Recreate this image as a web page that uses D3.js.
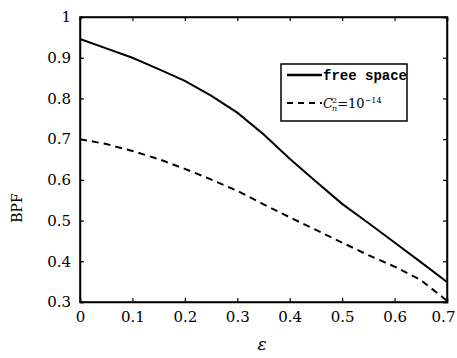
<!DOCTYPE html>
<html>
<head>
<meta charset="utf-8">
<script src="https://cdn.jsdelivr.net/npm/d3@7"></script>
<style>
  body { margin: 0; background: #fff; }
  text { font-family: "DejaVu Serif", serif; fill: #000; }
</style>
</head>
<body>
<script>
// values
var eps = [0, 0.05, 0.1, 0.15, 0.2, 0.25, 0.3, 0.35, 0.4, 0.45, 0.5, 0.55, 0.6, 0.65, 0.7];
var freeSpace = [0.946, 0.923, 0.900, 0.872, 0.843, 0.807, 0.765, 0.712, 0.652, 0.596, 0.541, 0.494, 0.446, 0.398, 0.349];
var turbulent = [0.700, 0.688, 0.671, 0.651, 0.627, 0.601, 0.573, 0.540, 0.508, 0.477, 0.446, 0.415, 0.387, 0.354, 0.303];
var xTicks = [0, 0.1, 0.2, 0.3, 0.4, 0.5, 0.6, 0.7];
var yTicks = [0.3, 0.4, 0.5, 0.6, 0.7, 0.8, 0.9, 1];

var svg_width = 457, svg_height = 358;
var plot_left = 80, plot_right = 447, plot_top = 17, plot_bottom = 302;

var svg = d3.select('body').append('svg')
  .attr('width', svg_width)
  .attr('height', svg_height);

var x = d3.scaleLinear().domain([0, 0.7]).range([plot_left, plot_right]);
var y = d3.scaleLinear().domain([0.3, 1]).range([plot_bottom, plot_top]);

var fmt = function(d) { return d === 0 || d === 1 ? String(d) : d3.format('.1f')(d); };

// axes with inward ticks on all four sides
svg.append('g').attr('transform', 'translate(0,' + plot_bottom + ')')
  .call(d3.axisBottom(x).tickValues(xTicks).tickSize(-4).tickPadding(9).tickFormat(fmt))
  .call(function(g) {
    g.selectAll('text').style('font-size', '15px');
    // keep the last label inside the window
    g.selectAll('text').filter(function(d) { return d === 0.7; }).attr('dx', -4);
  });
svg.append('g').attr('transform', 'translate(0,' + plot_top + ')')
  .call(d3.axisTop(x).tickValues(xTicks).tickSize(-4).tickFormat(''));
svg.append('g').attr('transform', 'translate(' + plot_left + ',0)')
  .call(d3.axisLeft(y).tickValues(yTicks).tickSize(-4).tickPadding(9).tickFormat(fmt))
  .call(function(g) { g.selectAll('text').style('font-size', '15px'); });
svg.append('g').attr('transform', 'translate(' + plot_right + ',0)')
  .call(d3.axisRight(y).tickValues(yTicks).tickSize(-4).tickFormat(''));

svg.selectAll('.domain').attr('stroke', '#000').attr('stroke-width', 1.5);
svg.selectAll('.tick line').attr('stroke', '#000').attr('stroke-width', 1.2);

svg.append('rect')
  .attr('x', plot_left).attr('y', plot_top)
  .attr('width', plot_right - plot_left).attr('height', plot_bottom - plot_top)
  .attr('fill', 'none').attr('stroke', '#000').attr('stroke-width', 1.5);

var line = d3.line()
  .x(function(d, i) { return x(eps[i]); })
  .y(function(d) { return y(d); });

svg.append('path').datum(freeSpace)
  .attr('d', line)
  .attr('fill', 'none').attr('stroke', '#000').attr('stroke-width', 2);

svg.append('path').datum(turbulent)
  .attr('d', line)
  .attr('fill', 'none').attr('stroke', '#000').attr('stroke-width', 2)
  .attr('stroke-dasharray', '7,5');

// axis titles
svg.append('text')
  .attr('transform', 'translate(22,' + 208 + ') rotate(-90)')
  .attr('text-anchor', 'middle')
  .style('font-size', '14px')
  .text('BPF');

svg.append('text')
  .attr('x', 262).attr('y', 350)
  .attr('text-anchor', 'middle')
  .style('font-size', '17px').style('font-style', 'italic')
  .text('ε');

// legend
var lg = svg.append('g');
lg.append('rect')
  .attr('x', 281).attr('y', 64).attr('width', 126).attr('height', 57)
  .attr('fill', '#fff').attr('stroke', '#000').attr('stroke-width', 1.5);
lg.append('line')
  .attr('x1', 287).attr('x2', 322).attr('y1', 75).attr('y2', 75)
  .attr('stroke', '#000').attr('stroke-width', 2.5);
lg.append('text')
  .attr('x', 323).attr('y', 80)
  .style('font-family', '"Liberation Mono", monospace')
  .style('font-size', '14px').style('font-weight', 'bold')
  .text('free space');
lg.append('line')
  .attr('x1', 287).attr('x2', 322).attr('y1', 103).attr('y2', 103)
  .attr('stroke', '#000').attr('stroke-width', 2)
  .attr('stroke-dasharray', '6,5');
var t = lg.append('text').attr('x', 323).attr('y', 108).style('font-size', '13px');
t.append('tspan').style('font-style', 'italic').text('C');
t.append('tspan').attr('dx', -1).attr('dy', -5).style('font-size', '8px').text('2');
t.append('tspan').attr('dx', -5).attr('dy', 8).style('font-size', '8px').style('font-style', 'italic').text('n');
t.append('tspan').attr('dy', -3).text('=10');
t.append('tspan').attr('dy', -5).style('font-size', '8px').text('−14');
</script>
</body>
</html>
